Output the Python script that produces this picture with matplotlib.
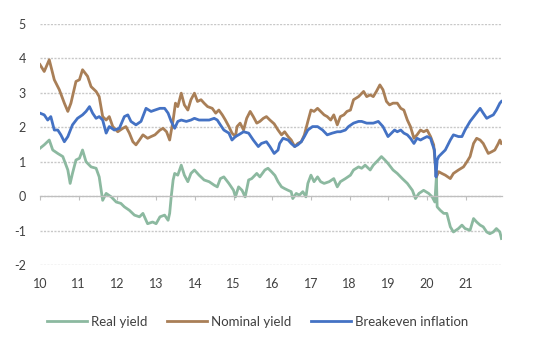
import matplotlib
matplotlib.use("Agg")
import matplotlib.pyplot as plt

plt.rcParams['font.family'] = ['Lato', 'DejaVu Sans']

# ---- data (year since 2000, percent) ----
real_t = [10.00,10.11,10.24,10.33,10.46,10.59,10.72,10.78,10.84,10.93,11.02,11.10,11.19,11.32,11.45,11.53,11.62,11.71,11.84,11.97,
          12.09,12.18,12.31,12.44,12.57,12.66,12.78,12.91,13.00,13.10,13.22,13.31,13.35,13.39,13.44,13.48,13.56,13.65,13.73,13.82,
          13.90,13.99,14.11,14.24,14.37,14.50,14.58,14.66,14.75,14.88,15.00,15.05,15.13,15.22,15.30,15.39,15.47,15.60,15.68,15.81,
          15.89,15.98,16.07,16.15,16.24,16.32,16.41,16.49,16.53,16.62,16.70,16.79,16.87,16.92,17.00,17.08,17.17,17.25,17.34,17.47,
          17.59,17.68,17.76,17.89,18.02,18.10,18.23,18.31,18.40,18.53,18.61,18.74,18.82,18.91,18.99,19.12,19.23,19.36,19.49,19.62,
          19.70,19.79,19.91,20.04,20.13,20.20,20.24,20.26,20.34,20.43,20.51,20.60,20.68,20.81,20.90,20.98,21.11,21.20,21.28,21.37,
          21.45,21.54,21.62,21.71,21.79,21.88,21.92]
real_v = [1.39,1.49,1.63,1.34,1.24,1.15,0.76,0.37,0.66,1.05,1.10,1.34,1.00,0.85,0.81,0.56,-0.12,0.08,-0.02,-0.17,
          -0.21,-0.31,-0.41,-0.55,-0.60,-0.50,-0.80,-0.75,-0.80,-0.60,-0.55,-0.70,-0.50,-0.02,0.47,0.66,0.61,0.90,0.61,0.42,
          0.66,0.76,0.61,0.47,0.42,0.32,0.27,0.51,0.56,0.37,0.17,-0.02,0.27,0.17,-0.02,0.47,0.51,0.66,0.56,0.76,
          0.81,0.71,0.60,0.42,0.27,0.22,0.17,0.13,-0.07,0.08,0.03,0.13,-0.02,0.37,0.61,0.42,0.56,0.42,0.37,0.42,
          0.51,0.27,0.42,0.51,0.61,0.76,0.85,0.81,0.90,0.76,0.90,1.05,1.15,1.05,0.95,0.76,0.66,0.51,0.37,0.17,
          -0.07,0.08,0.17,0.08,-0.02,-0.17,0.56,-0.31,-0.41,-0.50,-0.50,-0.89,-1.04,-0.94,-0.84,-0.94,-0.99,-0.65,-0.75,-0.84,
          -0.89,-1.04,-1.09,-1.04,-0.94,-1.04,-1.23]

nominal_t = [10.00,10.11,10.24,10.37,10.50,10.63,10.72,10.80,10.93,11.02,11.10,11.23,11.32,11.45,11.53,11.62,11.71,11.79,11.88,12.01,
             12.14,12.22,12.31,12.40,12.48,12.57,12.66,12.78,12.87,12.97,13.10,13.18,13.27,13.35,13.44,13.50,13.56,13.65,13.73,13.82,
             13.90,13.99,14.07,14.16,14.24,14.33,14.45,14.54,14.62,14.71,14.79,14.88,14.96,15.05,15.09,15.17,15.26,15.34,15.43,15.51,
             15.60,15.68,15.77,15.85,15.94,16.05,16.15,16.24,16.32,16.41,16.49,16.58,16.66,16.75,16.83,16.92,17.00,17.08,17.17,17.25,
             17.34,17.42,17.51,17.59,17.68,17.76,17.85,17.93,18.02,18.10,18.23,18.36,18.44,18.53,18.61,18.69,18.78,18.86,18.95,19.03,
             19.12,19.23,19.32,19.40,19.49,19.57,19.62,19.66,19.74,19.83,19.91,20.00,20.09,20.17,20.21,20.24,20.30,20.38,20.47,20.60,
             20.68,20.81,20.94,21.03,21.11,21.20,21.28,21.37,21.45,21.58,21.67,21.75,21.84,21.88,21.92]
nominal_v = [3.82,3.62,3.96,3.38,3.09,2.70,2.46,2.70,3.33,3.38,3.67,3.48,3.18,3.04,2.89,2.31,2.21,2.31,2.02,1.87,
             1.97,2.02,1.83,1.58,1.49,1.63,1.78,1.68,1.73,1.78,1.92,1.97,1.87,1.63,2.21,2.70,2.60,2.99,2.65,2.50,
             2.80,2.99,2.75,2.80,2.70,2.60,2.55,2.41,2.50,2.36,2.21,2.02,1.83,1.73,2.02,2.12,1.92,2.26,2.46,2.31,
             2.12,2.17,2.26,2.31,2.21,2.10,1.92,1.78,1.87,1.73,1.63,1.44,1.53,1.58,1.78,2.17,2.50,2.46,2.55,2.46,
             2.36,2.31,2.21,2.36,2.07,2.31,2.36,2.46,2.50,2.80,2.89,3.04,2.89,2.94,2.89,3.04,3.23,3.09,2.75,2.65,
             2.70,2.70,2.55,2.50,2.21,2.02,1.83,1.68,1.78,1.92,1.87,1.92,1.73,1.49,0.95,0.56,0.71,0.66,0.61,0.51,
             0.66,0.76,0.85,1.00,1.15,1.53,1.68,1.63,1.53,1.24,1.29,1.34,1.53,1.63,1.53]

breakeven_t = [10.00,10.11,10.20,10.28,10.37,10.46,10.54,10.63,10.72,10.84,10.97,11.10,11.19,11.28,11.36,11.45,11.53,11.62,11.71,11.79,
               11.92,12.05,12.18,12.27,12.35,12.48,12.61,12.74,12.87,12.97,13.10,13.22,13.31,13.39,13.48,13.56,13.65,13.78,13.90,13.99,
               14.11,14.24,14.37,14.50,14.58,14.66,14.75,14.88,14.96,15.05,15.13,15.26,15.39,15.51,15.64,15.72,15.85,15.94,16.05,16.15,
               16.19,16.28,16.41,16.49,16.58,16.66,16.75,16.83,16.92,17.04,17.17,17.30,17.42,17.55,17.68,17.76,17.89,17.97,18.10,18.23,
               18.31,18.44,18.61,18.74,18.86,18.99,19.08,19.16,19.23,19.32,19.40,19.49,19.57,19.66,19.74,19.83,19.91,20.00,20.09,20.13,
               20.19,20.23,20.26,20.30,20.38,20.47,20.60,20.68,20.81,20.90,20.98,21.11,21.24,21.37,21.45,21.54,21.62,21.71,21.79,21.88,
               21.92]
breakeven_v = [2.41,2.36,2.21,2.31,1.92,1.92,1.78,1.58,1.73,2.07,2.26,2.36,2.46,2.60,2.41,2.26,2.31,2.21,1.83,2.02,
               1.92,1.97,2.31,2.36,2.17,2.07,2.17,2.55,2.46,2.50,2.55,2.55,2.41,2.17,1.97,2.17,2.21,2.17,2.21,2.26,
               2.21,2.21,2.21,2.26,2.21,2.07,1.92,1.83,1.63,1.73,1.78,1.87,1.83,1.63,1.44,1.53,1.58,1.44,1.24,1.34,
               1.53,1.68,1.63,1.53,1.44,1.49,1.58,1.73,1.92,2.02,2.02,1.92,1.78,1.83,1.87,1.87,1.92,2.02,2.12,2.17,
               2.17,2.12,2.12,2.17,2.02,1.73,1.83,1.92,1.87,1.92,1.83,1.78,1.68,1.53,1.68,1.63,1.68,1.73,1.68,1.53,
               1.34,0.56,1.05,1.15,1.24,1.34,1.63,1.78,1.73,1.73,1.92,2.17,2.36,2.55,2.41,2.26,2.31,2.36,2.50,2.70,
               2.75]

series_names = ["Real yield", "Nominal yield", "Breakeven inflation"]
x_ticks = list(range(10, 22))
y_ticks = list(range(-2, 6))

colors = ["#8cb9a0", "#a97f57", "#4472c4"]
txt = "#404040"

fig = plt.figure(figsize=(5.4, 3.52), dpi=100)
ax = fig.add_axes([0.074, 0.247, 0.856, 0.685])

for t, v, c, n in zip([real_t, nominal_t, breakeven_t], [real_v, nominal_v, breakeven_v], colors, series_names):
    ax.plot(t, v, color=c, lw=2.0, label=n, solid_joinstyle='round')

ax.set_xlim(10, 21.94)
ax.set_ylim(-2, 5)
ax.set_yticks(y_ticks)
ax.set_yticklabels([str(y) for y in y_ticks])
ax.yaxis.grid(True, color="#c8c8c8", lw=1.0, linestyle=(0, (1.5, 1)))
ax.set_axisbelow(True)
for s in ["top", "right", "left"]:
    ax.spines[s].set_visible(False)
ax.spines["bottom"].set_position(("data", 0))
ax.spines["bottom"].set_color("#bfbfbf")
ax.spines["bottom"].set_linewidth(0.9)
ax.set_xticks(x_ticks)
ax.tick_params(axis="x", direction="out", length=3, color="#bfbfbf", labelbottom=False)
ax.tick_params(axis="y", length=0, pad=10, labelsize=9, labelcolor=txt)

sec = ax.secondary_xaxis("bottom")
sec.set_xticks(x_ticks)
sec.set_xticklabels([str(x) for x in x_ticks])
sec.tick_params(length=0, pad=9.5, labelsize=9, labelcolor=txt)
sec.spines["bottom"].set_visible(False)

leg = fig.legend(loc="center", bbox_to_anchor=(0.477, 0.085), ncol=3, frameon=False,
                 fontsize=9.5, handlelength=3.05, handletextpad=0.3, columnspacing=1.5)
for text in leg.get_texts():
    text.set_color(txt)

fig.savefig("out.png", dpi=100)
